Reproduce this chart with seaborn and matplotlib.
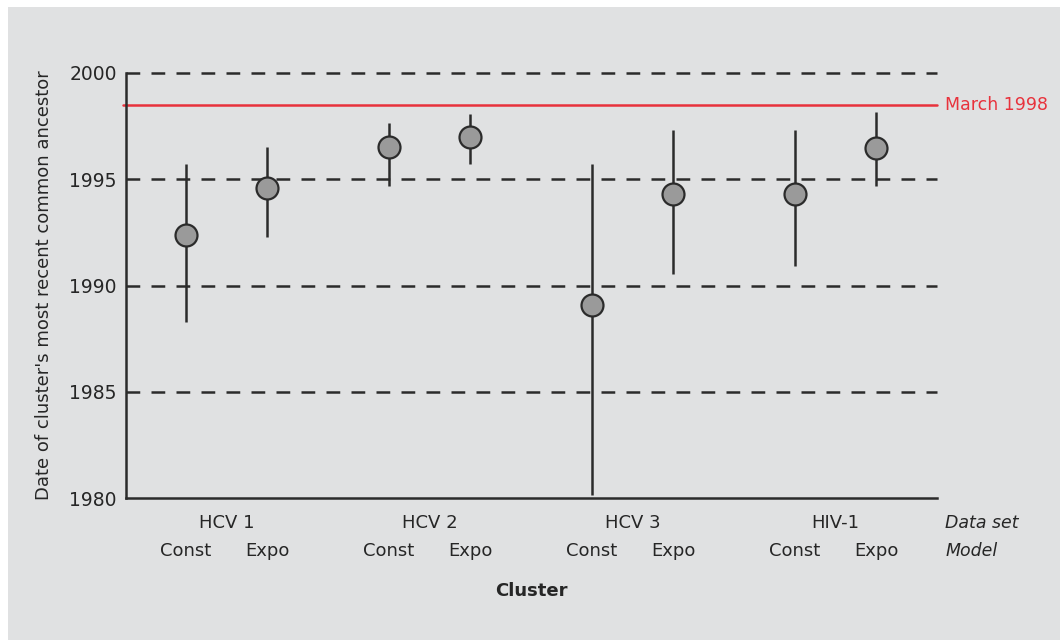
import seaborn as sns
import pandas as pd
import matplotlib.pyplot as plt
from matplotlib.patches import Rectangle

# Datos
clusters = ['HCV 1', 'HCV 2', 'HCV 3', 'HIV-1']
modelos = ['Const', 'Expo']
fecha_media = [1992.4, 1994.6, 1996.5, 1997.0, 1989.1, 1994.3, 1994.3, 1996.45]
fecha_baja = [1988.3, 1992.3, 1994.7, 1995.7, 1980.15, 1990.55, 1990.9, 1994.7]
fecha_alta = [1995.7, 1996.5, 1997.65, 1998.05, 1995.7, 1997.3, 1997.3, 1998.15]
marzo_1998 = 1998.5
y_ticks = [1980, 1985, 1990, 1995, 2000]

fondo = '#e0e1e2'
oscuro = '#2b2b2b'
rojo = '#e8323c'
texto = '#262626'

# Construir la tabla
filas = []
for i, c in enumerate(clusters):
    for j, m in enumerate(modelos):
        k = i * 2 + j
        filas.append({'Cluster': c, 'Modelo': m, 'x': i * 2.5 + j,
                      'Fecha': fecha_media[k], 'Baja': fecha_baja[k], 'Alta': fecha_alta[k]})
df = pd.DataFrame(filas)

sns.set_style('white')
plt.rcParams['font.family'] = ['DejaVu Sans']

fig = plt.figure(figsize=(10.6, 6.4), dpi=100, facecolor='white')
fondo_rect = Rectangle((8 / 1060, 0), 1, 1 - 7 / 640, transform=fig.transFigure,
                       facecolor=fondo, edgecolor='none', zorder=-10)
fig.add_artist(fondo_rect)
ax = fig.add_axes([126 / 1060, 1 - 498 / 640, (937 - 126) / 1060, (498 - 73) / 640])
ax.set_facecolor('none')
ax.set_zorder(5)

# Lineas de referencia discontinuas
for t in y_ticks[1:]:
    ax.axhline(t, color=oscuro, lw=1.8, ls=(0, (5.5, 4.5)), zorder=1, clip_on=False)

# Linea roja
ax.axhline(marzo_1998, xmin=-0.004, color=rojo, lw=1.8, zorder=2, clip_on=False)
ax.text(1.01, marzo_1998, 'March 1998', color=rojo, fontsize=12.5,
        transform=ax.get_yaxis_transform(), va='center', ha='left')

# Barras de error
ax.vlines(df['x'], df['Baja'], df['Alta'], color=oscuro, lw=1.8, zorder=3)

# Puntos
sns.scatterplot(data=df, x='x', y='Fecha', ax=ax, s=250, color='#9a9a9a',
                edgecolor=oscuro, linewidth=1.6, zorder=4, legend=False)

ax.set_xlim(-0.74, 9.25)
ax.set_ylim(1980, 2000)
ax.set_yticks(y_ticks)
ax.set_yticklabels([str(t) for t in y_ticks], fontsize=13.5, color=texto)
ax.tick_params(axis='y', direction='inout', length=11, width=1.6, color=oscuro, pad=1)
ax.set_xticks([])
ax.set_xlabel('')
ax.set_ylabel("Date of cluster's most recent common ancestor", fontsize=13,
              color=texto, labelpad=12)

for lado in ['top', 'right']:
    ax.spines[lado].set_visible(False)
for lado in ['left', 'bottom']:
    ax.spines[lado].set_color(oscuro)
    ax.spines[lado].set_linewidth(1.8)

# Etiquetas del eje x
trans = ax.get_xaxis_transform()
for i, c in enumerate(clusters):
    ax.text(i * 2.5 + 0.5, -0.06, c, transform=trans, ha='center', va='center',
            fontsize=13, color=texto)
    for j, m in enumerate(modelos):
        ax.text(i * 2.5 + j, -0.125, m, transform=trans, ha='center', va='center',
                fontsize=13, color=texto)
ax.text(1.01, -0.06, 'Data set', transform=ax.transAxes, ha='left', va='center',
        fontsize=12.5, style='italic', color=texto)
ax.text(1.01, -0.125, 'Model', transform=ax.transAxes, ha='left', va='center',
        fontsize=12.5, style='italic', color=texto)
ax.text(0.5, -0.22, 'Cluster', transform=ax.transAxes, ha='center', va='center',
        fontsize=13, fontweight='bold', color=texto)

fig.savefig('out.png', dpi=100, facecolor=fig.get_facecolor())
